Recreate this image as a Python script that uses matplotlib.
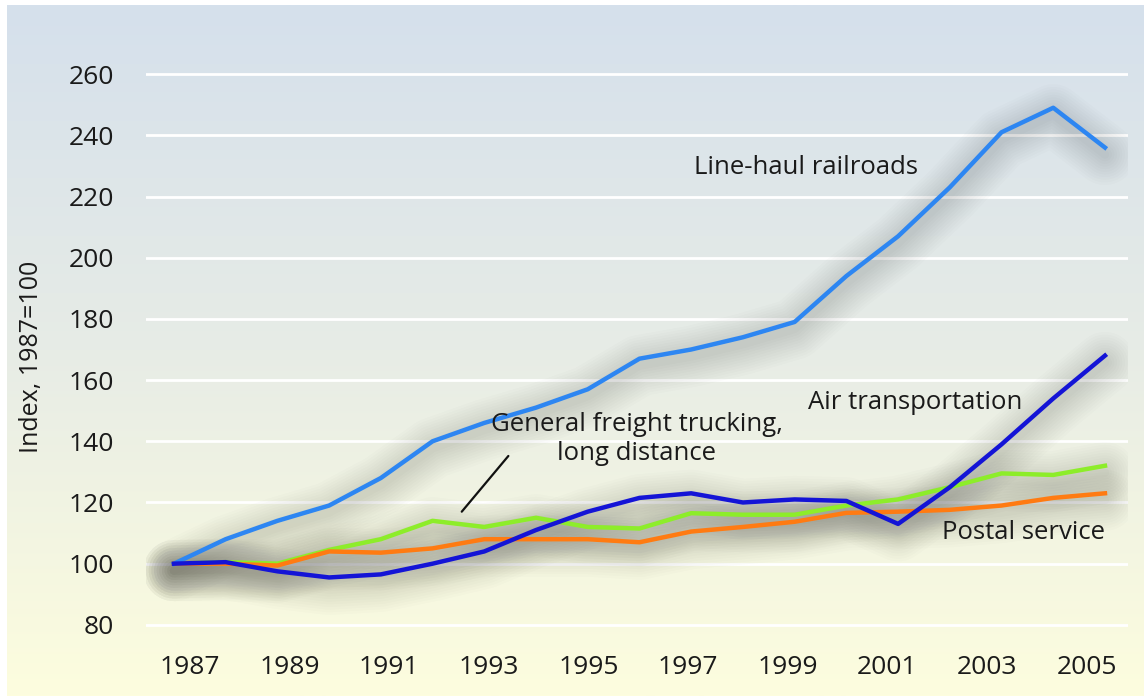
import numpy as np
import matplotlib
matplotlib.use("Agg")
import matplotlib.pyplot as plt
from matplotlib import patheffects
from matplotlib.colors import LinearSegmentedColormap

plt.rcParams['font.family'] = ['Open Sans', 'DejaVu Sans']

# data (index, 1987 = 100)
years = np.arange(1987, 2006)
railroads = [100, 108, 114, 119, 128, 140, 146, 151, 157, 167, 170, 174, 179,
             194, 207, 223, 241, 249, 236]
air = [100, 100.5, 97.5, 95.5, 96.5, 100, 104, 111, 117, 121.5, 123, 120, 121,
       120.5, 113, 125, 139, 154, 168]
trucking = [100, 100.5, 100, 104.5, 108, 114, 112, 115, 112, 111.5, 116.5, 116,
            116, 119, 121, 125, 129.5, 129, 132]
postal = [100, 100, 99.4, 104, 103.6, 105, 108, 108, 108, 107, 110.5, 112, 113.7,
          116.6, 117, 117.6, 119, 121.5, 123]

y_ticks = np.arange(80, 261, 20)
x_tick_years = np.arange(1987, 2006, 2)

fig = plt.figure(figsize=(11.44, 6.96), dpi=100)

# gradient backdrop
bg = fig.add_axes([7 / 1144, 0, 1 - 7 / 1144, 1 - 5 / 696])
bg.axis('off')
cmap = LinearSegmentedColormap.from_list('bg', ['#d5e0ec', '#e7ece6', '#fdfdde'])
bg.imshow(np.linspace(0, 1, 256).reshape(-1, 1), aspect='auto', cmap=cmap,
          extent=[0, 1, 0, 1])

ax = fig.add_axes([146 / 1144, 1 - 631 / 696, 982 / 1144, 563 / 696])
ax.patch.set_alpha(0)
ax.set_xlim(1986.46, 2005.445)
ax.set_ylim(78, 262)
for s in ax.spines.values():
    s.set_visible(False)

ax.set_yticks(y_ticks)
ax.yaxis.grid(True, color='white', lw=2)
ax.set_axisbelow(True)
ax.tick_params(length=0, labelsize=19, colors='#1a1a1a')
ax.tick_params(axis='y', pad=23)
ax.tick_params(axis='x', pad=17)
# the year labels in the original sit on a slightly tighter spacing than the data
ax.set_xticks(1987.31 + (x_tick_years - 1987) * 0.963,
              [str(y) for y in x_tick_years])
ax.set_ylabel('Index, 1987=100', fontsize=18, color='#1a1a1a')
ax.yaxis.set_label_coords(-0.104, 0.487)

series = [
    (trucking, '#8ded2a'),
    (postal, '#ff7b12'),
    (railroads, '#2d86f2'),
    (air, '#1414d6'),
]

# soft drop shadows
for vals, _ in series:
    effects = [patheffects.Stroke(offset=(0, -5), linewidth=w, foreground='#3a3a3a',
                                  alpha=0.017) for w in np.linspace(6, 44, 11)]
    ln, = ax.plot(years, vals, lw=1, color='none', solid_capstyle='round',
                  solid_joinstyle='round', zorder=1)
    ln.set_path_effects(effects)

for vals, c in series:
    ax.plot(years, vals, color=c, lw=3.2, solid_joinstyle='round', zorder=3)

txt = dict(fontsize=18.5, color='#1a1a1a', ha='center', va='center', zorder=4)
ax.text(1999.22, 229.4, 'Line-haul railroads', **txt)
ax.text(2001.33, 152.6, 'Air transportation', **txt)
ax.text(2003.42, 110.1, 'Postal service', **txt)
ax.text(1995.95, 140.8, 'General freight trucking,\nlong distance',
        linespacing=1.2, **txt)
ax.annotate('', xy=(1992.53, 116.3), xytext=(1993.5, 135.9),
            arrowprops=dict(arrowstyle='-', color='#111111', lw=1.6))

fig.savefig('out.png', dpi=100)
